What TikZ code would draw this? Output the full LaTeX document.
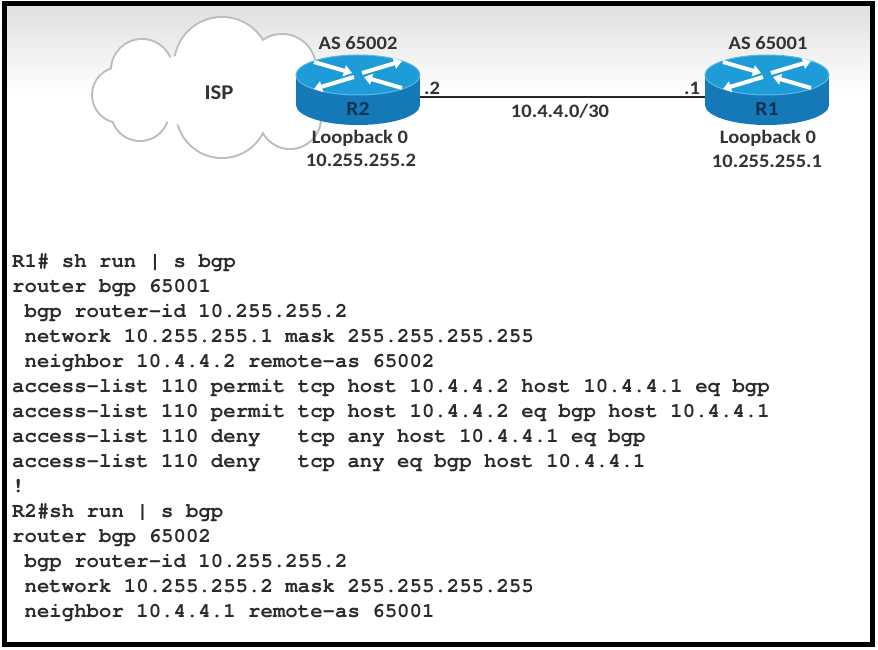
\documentclass[tikz,border=0pt]{standalone}
\usepackage{fontspec}
\usetikzlibrary{arrows.meta}
\newfontfamily\lblfont[FakeStretch=1.08]{Carlito}
\newfontfamily\codefont{texgyrecursor-bold.otf}
\definecolor{lbl}{HTML}{333333}
\definecolor{rtop}{HTML}{1E9CD8}
\definecolor{rrim}{HTML}{5BB8E4}
\definecolor{rside}{HTML}{1679B7}
\definecolor{rname}{HTML}{0E3354}
\definecolor{cloudline}{HTML}{BDBDBD}
\definecolor{codecol}{HTML}{2A2A2A}
\tikzset{
  lbl/.style={font=\lblfont\bfseries\fontsize{19}{19}\selectfont, text=lbl, inner sep=0pt},
  code/.style={font=\codefont\fontsize{20.7}{25}\selectfont, text=codecol, anchor=base west, inner sep=0pt},
  rarrow/.style={draw=white, line width=4pt, -{Triangle[width=11pt,length=8pt]}},
  link/.style={draw=black!85, line width=2pt},
  router/.pic={
    \fill[rside] (-62,0) rectangle (62,30);
    \fill[rside] (0,30) ellipse[x radius=62, y radius=20];
    \fill[rtop, draw=rrim, line width=1pt] (0,0) ellipse[x radius=62, y radius=20];
    \draw[rarrow] (-44,-13) -- (-6,-2);
    \draw[rarrow] (44,13) -- (6,2);
    \draw[rarrow] (4,-2) -- (44,-14);
    \draw[rarrow] (-4,2) -- (-44,14);
    \node[lbl, text=rname, font=\lblfont\bfseries\fontsize{20}{20}\selectfont] at (0,34) {#1};
    \node[minimum width=124pt, minimum height=40pt, inner sep=0pt] (-body) at (0,22) {};
  }
}
\begin{document}
\begin{tikzpicture}[x=1pt, y=-1pt]
\useasboundingbox (0,0) rectangle (878,650);
\fill[white] (0,0) rectangle (878,650);
\shade[top color=black!12, bottom color=white] (7,6.5) rectangle (870,95);

% cloud
\foreach \c/\r in {{(222,65)}/47, {(142,70)}/30, {(120,95)}/27, {(140,112)}/28, {(222,112)}/45, {(282,68)}/33, {(290,118)}/30}
  \draw[cloudline, line width=4pt] \c circle[radius=\r];
\foreach \c/\r in {{(222,65)}/47, {(142,70)}/30, {(120,95)}/27, {(140,112)}/28, {(222,112)}/45, {(282,68)}/33, {(290,118)}/30}
  \fill[white] \c circle[radius=\r];
\fill[white] (212,90) ellipse[x radius=80, y radius=38];
\node[lbl, font=\lblfont\bfseries\fontsize{21}{21}\selectfont] (isp) at (219,93) {ISP};

% routers
\pic (r2) at (358,75) {router=R2};
\pic (r1) at (767,75) {router=R1};
\draw[link] (r2-body.east) -- (r1-body.west);

\node[lbl] (as2) at (358,43) {AS 65002};
\node[lbl] (lo2) at (360,138) {Loopback 0};
\node[lbl] (ip2) at (361,160) {10.255.255.2};
\node[lbl] (as1) at (768,43) {AS 65001};
\node[lbl] (lo1) at (768,138) {Loopback 0};
\node[lbl] (ip1) at (767,161) {10.255.255.1};
\node[lbl] (d2) at (432,88) {.2};
\node[lbl] (d1) at (692,88) {.1};
\node[lbl] (net) at (560,111) {10.4.4.0/30};

% configuration text
\node[code] (c1) at (12,267) {R1\# sh run | s bgp};
\node[code] (c2) at (12,292) {router bgp 65001};
\node[code] (c3) at (12,317) {~bgp router-id 10.255.255.2};
\node[code] (c4) at (12,342) {~network 10.255.255.1 mask 255.255.255.255};
\node[code] (c5) at (12,367) {~neighbor 10.4.4.2 remote-as 65002};
\node[code] (c6) at (12,392) {access-list 110 permit tcp host 10.4.4.2 host 10.4.4.1 eq bgp};
\node[code] (c7) at (12,417) {access-list 110 permit tcp host 10.4.4.2 eq bgp host 10.4.4.1};
\node[code] (c8) at (12,442) {access-list 110 deny~~~tcp any host 10.4.4.1 eq bgp};
\node[code] (c9) at (12,467) {access-list 110 deny~~~tcp any eq bgp host 10.4.4.1};
\node[code] (c10) at (12,492) {!};
\node[code] (c11) at (12,517) {R2\#sh run | s bgp};
\node[code] (c12) at (12,542) {router bgp 65002};
\node[code] (c13) at (12,567) {~bgp router-id 10.255.255.2};
\node[code] (c14) at (12,592) {~network 10.255.255.2 mask 255.255.255.255};
\node[code] (c15) at (12,617) {~neighbor 10.4.4.1 remote-as 65001};

% frame
\draw[line width=5pt] (4.5,4) rectangle (872.5,644);
\end{tikzpicture}
\end{document}
